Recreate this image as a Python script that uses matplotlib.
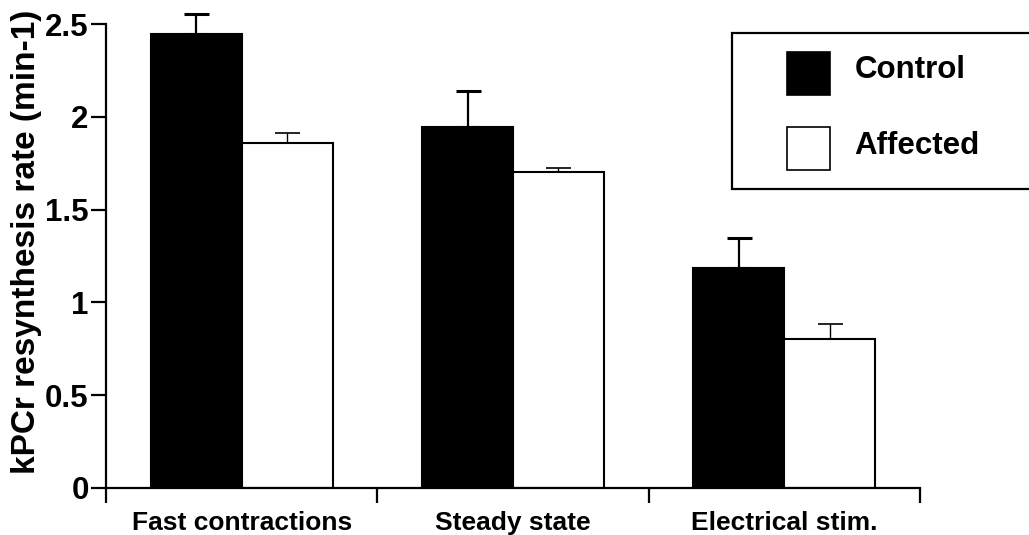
""" kPCr resynthesis rate bar chart """

import numpy as np
import matplotlib
matplotlib.use("Agg")
import matplotlib.pyplot as plt
import matplotlib.transforms as mtransforms
from matplotlib.patches import Patch, Rectangle

# data
categories = ["Fast contractions", "Steady state", "Electrical stim."]
control = [2.45, 1.947, 1.183]
control_err = [0.105, 0.194, 0.165]
affected = [1.857, 1.701, 0.80]
affected_err = [0.058, 0.025, 0.083]
yticks = [0, 0.5, 1, 1.5, 2, 2.5]
ytick_labels = ["0", "0.5", "1", "1.5", "2", "2.5"]

plt.rcParams["font.family"] = ["Liberation Sans", "DejaVu Sans"]
plt.rcParams["font.weight"] = "bold"

W, H = 1029, 535
fig = plt.figure(figsize=(W / 100, H / 100), dpi=100)
ax = fig.add_axes([106 / W, 1 - 487.7 / H, (920 - 106) / W, (487.7 - 24.3) / H])

x = np.arange(len(categories))
w = 0.335

ax.bar(x - w / 2, control, width=w, color="black", edgecolor="black",
       linewidth=1.5, zorder=2)
ax.bar(x + w / 2, affected, width=w, color="white", edgecolor="black",
       linewidth=1.5, zorder=2)

# only the upper half of the error bars is drawn
ax.errorbar(x - w / 2, control, yerr=[np.zeros(3), control_err], fmt="none",
            ecolor="black", elinewidth=1.6, capsize=9, capthick=2.2,
            zorder=3, clip_on=False)
ax.errorbar(x + w / 2, affected, yerr=[np.zeros(3), affected_err], fmt="none",
            ecolor="black", elinewidth=1.0, capsize=9, capthick=1.2,
            zorder=3, clip_on=False)

ax.set_xlim(-0.5, 2.5)
ax.set_ylim(0, 2.5)

for s in ["top", "right"]:
    ax.spines[s].set_visible(False)
for s in ["left", "bottom"]:
    ax.spines[s].set_linewidth(1.6)

ax.set_yticks(yticks)
ax.set_yticklabels(ytick_labels, fontsize=22.5, fontweight="bold")
ax.tick_params(axis="y", direction="out", length=11, width=1.6, pad=1.5)

# group boundaries as major ticks, category names as minor ticks
ax.set_xticks([-0.5, 0.5, 1.5, 2.5])
ax.set_xticklabels([])
ax.tick_params(axis="x", which="major", direction="out", length=11, width=1.6)
ax.set_xticks(x, minor=True)
ax.set_xticklabels(categories, minor=True, fontsize=19, fontweight="bold")
ax.tick_params(axis="x", which="minor", length=0, pad=17)

ax.set_ylabel("kPCr resynthesis rate (min-1)", fontsize=24, fontweight="bold")
ax.yaxis.set_label_coords(-0.0786, 0.531)

# legend: frame drawn separately so it runs off the right edge
fig.patches.append(Rectangle((732 / W, 1 - 189 / H), 320 / W, 156 / H,
                             transform=fig.transFigure, facecolor="white",
                             edgecolor="black", linewidth=1.6, zorder=1))
handles = [Patch(facecolor="black", edgecolor="black", linewidth=1.2),
           Patch(facecolor="white", edgecolor="black", linewidth=1.2)]
leg = fig.legend(handles, ["Control", "Affected"], loc="upper left",
                 bbox_to_anchor=(787 / W, 1 - 52 / H), frameon=False,
                 prop={"size": 22.5, "weight": "bold"}, borderpad=0,
                 borderaxespad=0, handlelength=1.38, handleheight=1.72,
                 handletextpad=0.78, labelspacing=1.05)
# nudge legend texts up a little, as in the original
lift = mtransforms.ScaledTranslation(0, 0.05, fig.dpi_scale_trans)
for t in leg.get_texts():
    t.set_transform(t.get_transform() + lift)

fig.savefig("out.png", dpi=100)
